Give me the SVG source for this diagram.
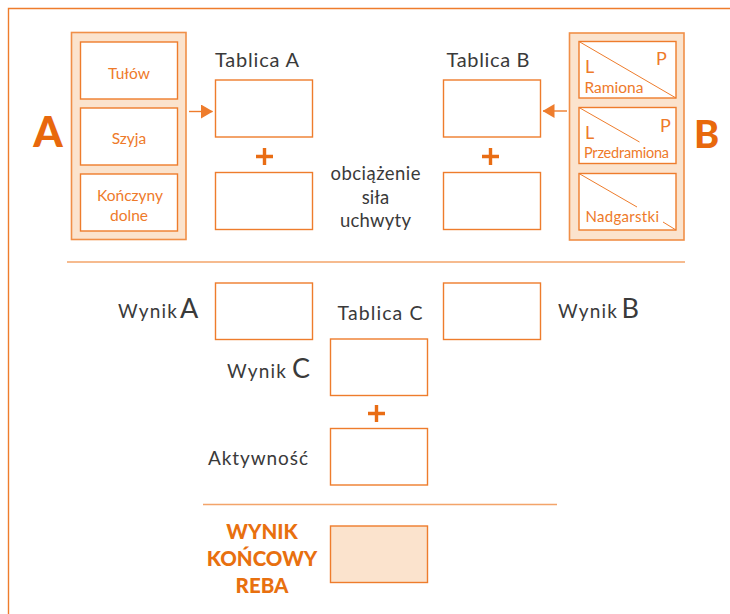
<svg xmlns="http://www.w3.org/2000/svg" width="730" height="614" viewBox="0 0 730 614">
  <defs>
    <style>
      .box { fill: #ffffff; stroke: #ee7c2c; stroke-width: 1.4; }
      .panel { fill: #fbe3cd; stroke: #f08f48; stroke-width: 1.6; }
      .final { fill: #fbe3cd; stroke: #ee7c2c; stroke-width: 1.4; }
      .diag { stroke: #ee7c2c; stroke-width: 1; fill: none; }
      .sep { stroke: #f3a46a; stroke-width: 1.6; fill: none; }
      .plus { stroke: #e96d14; stroke-width: 3.4; fill: none; }
      .conn { stroke: #ee7c2c; stroke-width: 1.4; fill: none; }
      .lbl { font-family: Lato, "Liberation Sans", sans-serif; fill: #ee7a2a; }
      .gray { font-family: Lato, "Liberation Sans", sans-serif; fill: #3a3a3a; }
      .big { font-family: Lato, "Liberation Sans", sans-serif; font-weight: 900; fill: #e8680c; }
      .res { font-family: Lato, "Liberation Sans", sans-serif; font-weight: 900; fill: #e8700f; font-size: 20.5px; }
    </style>
    <marker id="arrow" markerWidth="12" markerHeight="14" refX="11.5" refY="7" orient="auto" markerUnits="userSpaceOnUse">
      <path d="M0,0 L12,7 L0,14 Z" fill="#ee7c2c"/>
    </marker>
  </defs>

  <!-- page frame -->
  <path d="M8.5,614 V8.5 H730" fill="none" stroke="#ee7c2c" stroke-width="1.4"/>

  <!-- section separators -->
  <line class="sep" x1="67" y1="262" x2="685" y2="262"/>
  <line class="sep" x1="203" y1="504.5" x2="557" y2="504.5"/>

  <!-- group A: body parts -->
  <g id="groupA">
    <text class="big" x="48" y="147" font-size="42" text-anchor="middle">A</text>
    <rect class="panel" x="71.5" y="32.5" width="114.5" height="207"/>
    <g id="tulow">
      <rect class="box" x="80.5" y="42" width="97" height="57"/>
      <text class="lbl" x="129" y="78.5" font-size="15.5" text-anchor="middle">Tułów</text>
    </g>
    <g id="szyja">
      <rect class="box" x="80.5" y="108" width="97" height="57"/>
      <text class="lbl" x="129" y="143.5" font-size="15.5" text-anchor="middle">Szyja</text>
    </g>
    <g id="konczyny">
      <rect class="box" x="80.5" y="174" width="97" height="57"/>
      <text class="lbl" x="130" y="200.5" font-size="15.5" text-anchor="middle">Kończyny</text>
      <text class="lbl" x="129" y="220.5" font-size="15.5" text-anchor="middle">dolne</text>
    </g>
  </g>

  <!-- table A -->
  <g id="tablicaA">
    <text class="gray" x="257" y="67" font-size="20" text-anchor="middle" textLength="84" lengthAdjust="spacing">Tablica A</text>
    <rect class="box" x="215.5" y="80" width="97" height="57"/>
    <path class="plus" d="M256,156.5 H273 M264.5,148 V165"/>
    <rect class="box" x="215.5" y="172.5" width="97" height="57"/>
  </g>

  <!-- load / force / grip -->
  <g id="obciazenie">
    <text class="gray" x="375.5" y="180" font-size="18.5" text-anchor="middle" textLength="90" lengthAdjust="spacing">obciążenie</text>
    <text class="gray" x="375.5" y="204" font-size="18.5" text-anchor="middle">siła</text>
    <text class="gray" x="375.5" y="227" font-size="18.5" text-anchor="middle" textLength="71" lengthAdjust="spacing">uchwyty</text>
  </g>

  <!-- table B -->
  <g id="tablicaB">
    <text class="gray" x="488" y="67" font-size="20" text-anchor="middle" textLength="83" lengthAdjust="spacing">Tablica B</text>
    <rect class="box" x="443.5" y="80" width="97" height="57"/>
    <path class="plus" d="M482,156.5 H499 M490.5,148 V165"/>
    <rect class="box" x="443.5" y="172.5" width="97" height="57"/>
  </g>

  <!-- group B: arm parts -->
  <g id="groupB">
    <rect class="panel" x="569.5" y="33" width="114.5" height="207"/>
    <text class="big" x="706.5" y="147.5" font-size="38" text-anchor="middle">B</text>
    <g id="ramiona">
      <rect class="box" x="579" y="41.5" width="97" height="56.5"/>
      <line class="diag" x1="579" y1="41.5" x2="676" y2="98"/>
      <text class="lbl" x="585" y="72.5" font-size="18">L</text>
      <text class="lbl" x="656" y="65" font-size="18">P</text>
      <text class="lbl" x="584.5" y="92.5" font-size="15.5">Ramiona</text>
    </g>
    <g id="przedramiona">
      <rect class="box" x="579" y="107.5" width="97" height="56"/>
      <line class="diag" x1="579" y1="107.5" x2="639.5" y2="142"/>
      <text class="lbl" x="585" y="139" font-size="18">L</text>
      <text class="lbl" x="660" y="131.5" font-size="18">P</text>
      <text class="lbl" x="584" y="157.5" font-size="14.5" textLength="85" lengthAdjust="spacing">Przedramiona</text>
    </g>
    <g id="nadgarstki">
      <rect class="box" x="579" y="173.5" width="97" height="56.5"/>
      <line class="diag" x1="579" y1="173.5" x2="637" y2="207"/>
      <line class="diag" x1="663" y1="222" x2="676" y2="230"/>
      <text class="lbl" x="585.5" y="222" font-size="15" textLength="73.5" lengthAdjust="spacing">Nadgarstki</text>
    </g>
  </g>

  <!-- connectors -->
  <g id="connectors">
    <line class="conn" x1="189" y1="111.5" x2="212.5" y2="111.5" marker-end="url(#arrow)"/>
    <line class="conn" x1="567" y1="111" x2="543" y2="111" marker-end="url(#arrow)"/>
  </g>

  <!-- results A, B and table C -->
  <g id="wynikA">
    <text class="gray" x="118" y="318" font-size="19" textLength="59" lengthAdjust="spacing">Wynik</text>
    <text class="gray" x="180" y="318" font-size="27">A</text>
    <rect class="box" x="215.5" y="283" width="97" height="56.5"/>
  </g>
  <g id="tablicaC">
    <text class="gray" x="380" y="320" font-size="19.5" text-anchor="middle" textLength="85" lengthAdjust="spacing">Tablica C</text>
  </g>
  <g id="wynikB">
    <rect class="box" x="443.5" y="283" width="97" height="56.5"/>
    <text class="gray" x="558" y="318" font-size="19" textLength="59" lengthAdjust="spacing">Wynik</text>
    <text class="gray" x="621.5" y="318" font-size="27">B</text>
  </g>
  <g id="wynikC">
    <text class="gray" x="227" y="378" font-size="19" textLength="59" lengthAdjust="spacing">Wynik</text>
    <text class="gray" x="292" y="378" font-size="27">C</text>
    <rect class="box" x="330.5" y="339" width="97" height="56.5"/>
  </g>
  <path class="plus" d="M368,413.5 H385 M376.5,405 V422"/>
  <g id="aktywnosc">
    <text class="gray" x="208" y="465" font-size="19" textLength="100" lengthAdjust="spacing">Aktywność</text>
    <rect class="box" x="330.5" y="428.5" width="97" height="56.5"/>
  </g>

  <!-- final score -->
  <g id="wynikKoncowy">
    <text class="res" x="262" y="539" text-anchor="middle">WYNIK</text>
    <text class="res" x="262" y="566" text-anchor="middle">KOŃCOWY</text>
    <text class="res" x="262" y="593" text-anchor="middle">REBA</text>
    <rect class="final" x="330.5" y="526" width="97" height="56.5"/>
  </g>
</svg>
